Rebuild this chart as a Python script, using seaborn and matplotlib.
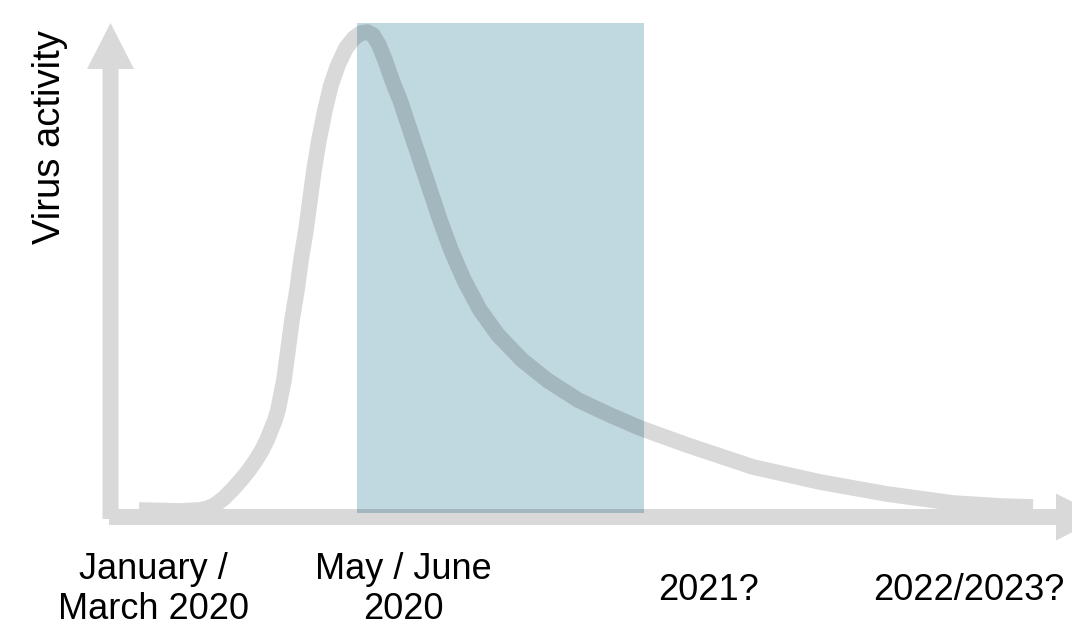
import matplotlib
matplotlib.use("Agg")
import matplotlib.pyplot as plt
from matplotlib.patches import Rectangle
import seaborn as sns
import pandas as pd

# Schematic course of virus activity over time (arbitrary units, baseline = 0)
time_points = [139, 180, 200, 208, 215, 224, 232, 241, 249, 256, 262, 267, 271,
               275, 278, 281, 284, 288, 292, 297, 301, 306, 310, 314, 319, 325,
               331, 338, 346, 354, 361, 367, 373, 379, 385, 392, 400, 410, 420,
               430, 440, 451, 464, 480, 498, 522, 547, 578, 610, 640, 687, 753,
               820, 887, 953, 1000, 1033]
activity = [7, 6, 7, 9, 12, 19, 27, 37, 47, 57, 67, 77, 87,
            97, 107, 122, 137, 167, 197, 227, 257, 287, 317, 347, 377, 407,
            432, 452, 469, 479, 484, 485, 482, 472, 457, 437, 417, 387, 357,
            327, 297, 267, 237, 207, 182, 157, 137, 117, 102, 89, 72, 50,
            35, 23, 14, 11, 10]

# Highlighted period (May / June 2020 onwards)
window_start, window_end = 357, 644
window_bottom, window_top = 4, 494

# Labels along the time axis
label_text = ["January /\nMarch 2020", "May / June\n2020", "2021?", "2022/2023?"]
label_time = [153, 403, 708, 969]
y_title = "Virus activity"

GREY = "#d9d9d9"
SHADE = "#c0d9e0"
OVERLAP = "#a3b8be"   # grey multiplied with the shade colour

sns.set_theme(style="white")
plt.rcParams["font.family"] = ["Liberation Sans", "DejaVu Sans"]

fig = plt.figure(figsize=(10.72, 6.26), dpi=100)
ax = fig.add_axes([0, 0, 1, 1])

df = pd.DataFrame({"time": time_points, "activity": activity})

# shaded window
window = Rectangle((window_start, window_bottom), window_end - window_start,
                   window_top - window_bottom, facecolor=SHADE, edgecolor="none",
                   zorder=1)
ax.add_patch(window)

# axis arrows
def draw_axes(color, z, clip=None):
    arrows = [
        ax.arrow(110.5, -2, 0, 496, width=16, head_width=47, head_length=46,
                 length_includes_head=True, color=color, lw=0, zorder=z),
        ax.arrow(109, 0, 993, 0, width=16, head_width=47, head_length=46,
                 length_includes_head=True, color=color, lw=0, zorder=z),
    ]
    if clip is not None:
        for a in arrows:
            a.set_clip_path(clip)

draw_axes(GREY, 2)
draw_axes(OVERLAP, 4, clip=window)

# activity curve, then its darker copy inside the shaded window
line_kw = dict(sort=False, estimator=None, linewidth=11.3, solid_capstyle="butt",
               solid_joinstyle="round", legend=False)
sns.lineplot(data=df, x="time", y="activity", ax=ax, color=GREY, zorder=3,
             **line_kw)
sns.lineplot(data=df, x="time", y="activity", ax=ax, color=OVERLAP, zorder=5,
             **line_kw)
ax.lines[-1].set_clip_path(window)

ax.set_xlim(0, 1072)
ax.set_ylim(-109, 517)
ax.set_axis_off()

# time labels (baseline of the last line)
for txt, t in zip(label_text, label_time):
    n_lines = txt.count("\n") + 1
    y = -102 if n_lines == 2 else -83
    ax.text(t, y, txt, ha="center", va="baseline", fontsize=26, color="black",
            linespacing=1.17)

ax.text(50, 380, y_title, rotation=90, ha="center", va="center",
        fontsize=27.5, color="black")

fig.savefig("out.png", dpi=100)
